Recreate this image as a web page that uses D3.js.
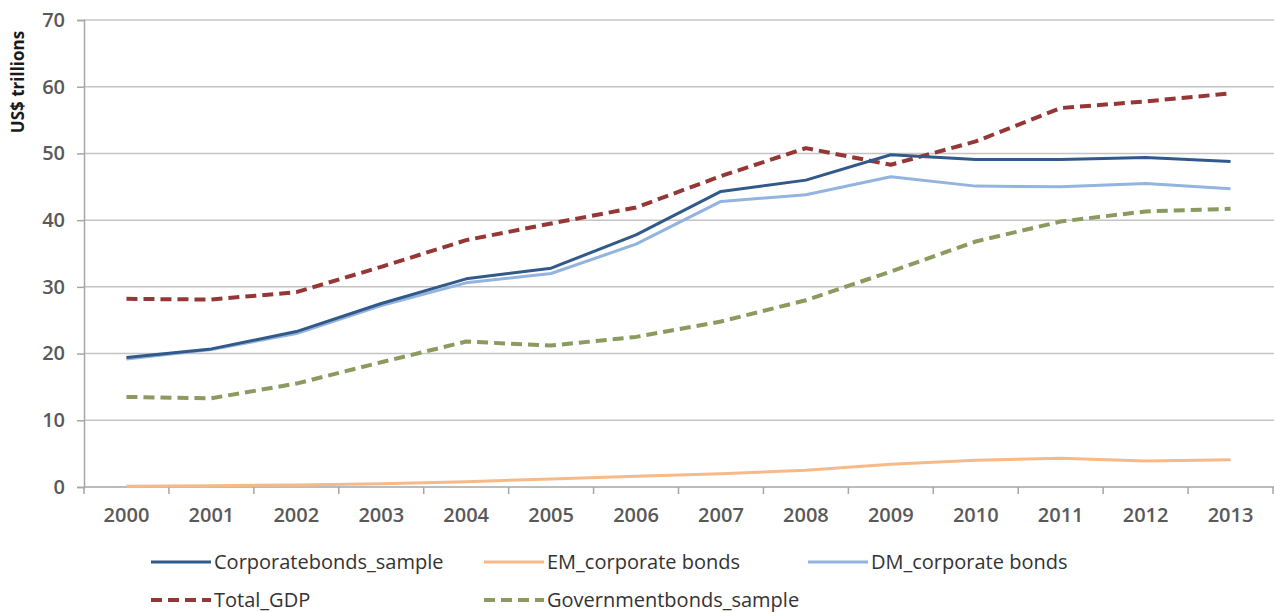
<!DOCTYPE html>
<html>
<head>
<meta charset="utf-8">
<script src="https://cdn.jsdelivr.net/npm/d3@7"></script>
<style>
  html, body { margin: 0; padding: 0; background: #fff; }
  svg { display: block; font-family: "Open Sans", "Liberation Sans", sans-serif; }
</style>
</head>
<body>
<svg id="chart" width="1274" height="612"></svg>
<script>
// Years on the category axis
const years = ["2000","2001","2002","2003","2004","2005","2006","2007","2008","2009","2010","2011","2012","2013"];

// Series values, US$ trillions
const corporateBondsSample = [19.4, 20.7, 23.3, 27.5, 31.2, 32.8, 37.8, 44.3, 46.0, 49.8, 49.1, 49.1, 49.4, 48.8];
const emCorporateBonds     = [0.1, 0.2, 0.3, 0.5, 0.8, 1.2, 1.6, 2.0, 2.5, 3.4, 4.0, 4.3, 3.9, 4.1];
const dmCorporateBonds     = [19.2, 20.6, 23.0, 27.2, 30.6, 32.0, 36.4, 42.8, 43.8, 46.5, 45.1, 45.0, 45.5, 44.7];
const totalGDP             = [28.2, 28.1, 29.2, 33.0, 37.0, 39.5, 41.9, 46.6, 50.8, 48.3, 51.8, 56.8, 57.8, 59.0];
const governmentBondsSample= [13.5, 13.3, 15.5, 18.7, 21.8, 21.2, 22.5, 24.8, 28.0, 32.3, 36.8, 39.8, 41.3, 41.7];

// Value axis ticks
const yTicks = [0, 10, 20, 30, 40, 50, 60, 70];

const series = [
  { name: "Corporatebonds_sample", values: corporateBondsSample, color: "#31598a", width: 3, dash: null },
  { name: "EM_corporate bonds", values: emCorporateBonds, color: "#f6ba88", width: 3, dash: null },
  { name: "DM_corporate bonds", values: dmCorporateBonds, color: "#92b4df", width: 3, dash: null },
  { name: "Total_GDP", values: totalGDP, color: "#953735", width: 4, dash: "11,6" },
  { name: "Governmentbonds_sample", values: governmentBondsSample, color: "#8b9a5e", width: 4, dash: "11,6" }
];

const svg = d3.select("#chart");
const plotLeft = 84, plotRight = 1273, plotTop = 20, plotBottom = 487;

const x = d3.scalePoint().domain(years).range([plotLeft, plotRight]).padding(0.5);
const y = d3.scaleLinear().domain([0, 70]).range([plotBottom, plotTop]);

// Horizontal gridlines
svg.append("g").selectAll("line.grid")
  .data(yTicks.filter(d => d > 0))
  .join("line")
  .attr("class", "grid")
  .attr("x1", plotLeft).attr("x2", 1274)
  .attr("y1", d => y(d)).attr("y2", d => y(d))
  .attr("stroke", "#c4c4c4").attr("stroke-width", 1.5);

// Value axis
const yAxis = d3.axisLeft(y).tickValues(yTicks).tickSize(7).tickPadding(12).tickFormat(d3.format("d"));
const gy = svg.append("g").attr("transform", `translate(${plotLeft},0)`).call(yAxis);
gy.select(".domain").attr("stroke", "#a6a6a6").attr("stroke-width", 1.5);
gy.selectAll(".tick line").attr("stroke", "#a6a6a6").attr("stroke-width", 1.5);
gy.selectAll(".tick text")
  .attr("fill", "#595959").attr("font-size", 20).attr("font-weight", 600)
  .attr("font-family", "'Open Sans', sans-serif");

// Category axis with ticks at band boundaries
const band = d3.scaleBand().domain(years).range([plotLeft, plotRight]);
const gx = svg.append("g").attr("transform", `translate(0,${plotBottom})`);
gx.append("line").attr("x1", plotLeft).attr("x2", 1274).attr("stroke", "#a6a6a6").attr("stroke-width", 1.5);
gx.selectAll("line.tk")
  .data(years.map(d => band(d)).concat([plotRight]))
  .join("line")
  .attr("class", "tk")
  .attr("x1", d => d).attr("x2", d => d)
  .attr("y1", 0).attr("y2", 7)
  .attr("stroke", "#a6a6a6").attr("stroke-width", 1.5);
gx.selectAll("text")
  .data(years)
  .join("text")
  .attr("x", d => x(d))
  .attr("y", 35)
  .attr("text-anchor", "middle")
  .attr("fill", "#595959").attr("font-size", 20).attr("font-weight", 600)
  .text(d => d);

// Axis title
svg.append("text")
  .attr("transform", "translate(24,82) rotate(-90)")
  .attr("text-anchor", "middle")
  .attr("font-size", 17).attr("font-weight", 700).attr("fill", "#1a1a1a")
  .text("US$ trillions");

// Series lines
const line = d3.line().x((d, i) => x(years[i])).y(d => y(d));
const drawOrder = [1, 4, 3, 2, 0];
drawOrder.forEach(k => {
  const s = series[k];
  svg.append("path")
    .datum(s.values)
    .attr("d", line)
    .attr("fill", "none")
    .attr("stroke", s.color)
    .attr("stroke-width", s.width)
    .attr("stroke-linejoin", "round")
    .attr("stroke-dasharray", s.dash);
});

// Legend
const legendPos = [
  { x: 151, y: 562 }, { x: 484, y: 562 }, { x: 808, y: 562 },
  { x: 151, y: 600 }, { x: 484, y: 600 }
];
series.forEach((s, i) => {
  const p = legendPos[i];
  const g = svg.append("g").attr("transform", `translate(${p.x},${p.y})`);
  g.append("line")
    .attr("x1", 0).attr("x2", 60).attr("y1", 0).attr("y2", 0)
    .attr("stroke", s.color).attr("stroke-width", s.width)
    .attr("stroke-dasharray", s.dash);
  g.append("text")
    .attr("x", 63).attr("y", 0).attr("dy", "0.35em")
    .attr("font-size", 20).attr("fill", "#333")
    .text(s.name);
});
</script>
</body>
</html>
